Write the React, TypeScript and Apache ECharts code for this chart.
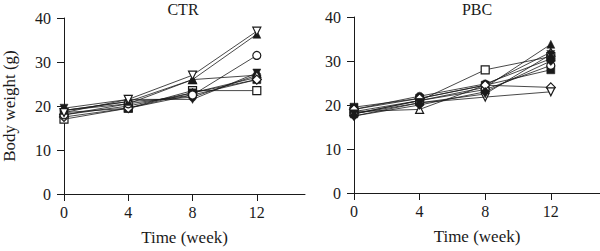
import React, { useEffect, useRef } from "react";
import * as echarts from "echarts";

const weeks = [0, 4, 8, 12];
const xTicks = [0, 4, 8, 12];

// Body weight (g) per mouse, control group
const ctrOpenDown = [18.5, 21.5, 27.0, 37.0];
const ctrFilledTri = [19.0, 21.0, 26.0, 36.3];
const ctrOpenCircle = [18.0, 20.5, 22.5, 31.5];
const ctrOpenSquare = [17.0, 19.5, 23.5, 23.5];
const ctrFilledSquare = [18.5, 19.5, 23.0, 26.0];
const ctrFilledCircle = [19.0, 21.0, 22.0, 27.0];
const ctrFilledDown = [19.5, 21.5, 21.5, 27.5];
const ctrFilledDiamond = [18.0, 20.0, 23.0, 26.5];
const ctrOpenTri = [19.0, 20.5, 26.0, 27.0];
const ctrOpenDiamond = [17.5, 19.5, 22.5, 26.0];

// Body weight (g) per mouse, PBC group
const pbcOpenSquare = [18.5, 21.0, 28.0, 31.0];
const pbcFilledTri = [18.0, 21.0, 24.0, 33.8];
const pbcOpenTri = [18.5, 19.0, 24.5, 32.0];
const pbcFilledCircle = [19.0, 22.0, 24.8, 30.5];
const pbcFilledSquare = [19.5, 21.5, 24.5, 28.0];
const pbcOpenCircle = [18.0, 21.0, 23.5, 29.0];
const pbcOpenDiamond = [19.0, 21.5, 24.5, 24.0];
const pbcOpenDown = [17.5, 20.5, 21.8, 23.0];
const pbcFilledDown = [18.0, 20.5, 22.5, 31.5];
const pbcFilledDiamond = [17.5, 20.0, 23.0, 30.0];

type Mk = { values: number[]; symbol: string; rotate?: number; open?: boolean };

const ctrSeries: Mk[] = [
  { values: ctrOpenSquare, symbol: "rect", open: true },
  { values: ctrFilledSquare, symbol: "rect" },
  { values: ctrFilledCircle, symbol: "circle" },
  { values: ctrFilledDown, symbol: "triangle", rotate: 180 },
  { values: ctrFilledDiamond, symbol: "diamond" },
  { values: ctrOpenTri, symbol: "triangle", open: true },
  { values: ctrOpenDiamond, symbol: "diamond", open: true },
  { values: ctrOpenCircle, symbol: "circle", open: true },
  { values: ctrFilledTri, symbol: "triangle" },
  { values: ctrOpenDown, symbol: "triangle", rotate: 180, open: true },
];

const pbcSeries: Mk[] = [
  { values: pbcOpenSquare, symbol: "rect", open: true },
  { values: pbcFilledTri, symbol: "triangle" },
  { values: pbcOpenTri, symbol: "triangle", open: true },
  { values: pbcFilledCircle, symbol: "circle" },
  { values: pbcFilledSquare, symbol: "rect" },
  { values: pbcOpenCircle, symbol: "circle", open: true },
  { values: pbcOpenDiamond, symbol: "diamond", open: true },
  { values: pbcOpenDown, symbol: "triangle", rotate: 180, open: true },
  { values: pbcFilledDown, symbol: "triangle", rotate: 180 },
  { values: pbcFilledDiamond, symbol: "diamond" },
];

const FONT = "Liberation Serif";
const INK = "#1a1a1a";

function axisPair(idx: number, showName: boolean) {
  const xAxis = {
    type: "value",
    gridIndex: idx,
    min: 0,
    max: 15,
    interval: 4,
    name: "Time (week)",
    nameLocation: "middle",
    nameGap: 35,
    nameTextStyle: { fontFamily: FONT, fontSize: 17, fontWeight: "normal", color: INK },
    axisLine: { lineStyle: { color: INK, width: 1 } },
    axisTick: { inside: false, length: 7, lineStyle: { color: INK }, customValues: xTicks },
    axisLabel: { fontFamily: FONT, fontSize: 16, color: INK, margin: 10, customValues: xTicks },
    splitLine: { show: false },
  };
  const yAxis = {
    type: "value",
    gridIndex: idx,
    min: 0,
    max: 40,
    interval: 10,
    name: showName ? "Body weight (g)" : "",
    nameLocation: "middle",
    nameGap: 46,
    nameTextStyle: { fontFamily: FONT, fontSize: 17, fontWeight: "normal", color: INK },
    axisLine: { show: true, lineStyle: { color: INK, width: 1 } },
    axisTick: { show: true, inside: false, length: 7, lineStyle: { color: INK } },
    axisLabel: { fontFamily: FONT, fontSize: 16, color: INK, margin: 13 },
    splitLine: { show: false },
  };
  return { xAxis, yAxis };
}

function toSeries(list: Mk[], idx: number) {
  return list.map((s) => ({
    type: "line",
    xAxisIndex: idx,
    yAxisIndex: idx,
    data: weeks.map((w, i) => [w, s.values[i]]),
    symbol: s.symbol,
    symbolRotate: s.rotate ?? 0,
    symbolSize: s.symbol === "diamond" ? 9 : 8,
    showAllSymbol: true,
    lineStyle: { color: INK, width: 0.8 },
    itemStyle: {
      color: s.open ? "#ffffff" : INK,
      borderColor: INK,
      borderWidth: s.open ? 1.2 : 0.5,
    },
    z: 3,
  }));
}

export default function App() {
  const ref = useRef<HTMLDivElement>(null);
  useEffect(() => {
    if (!ref.current) return;
    const chart = echarts.init(ref.current, undefined, { renderer: "svg" });
    const a0 = axisPair(0, true);
    const a1 = axisPair(1, false);
    const titleStyle = { fontFamily: FONT, fontSize: 16, fontWeight: "normal", color: INK };
    chart.setOption({
      animation: false,
      backgroundColor: "#ffffff",
      title: [
        { text: "CTR", left: 183, top: 1, padding: 0, textAlign: "center", textStyle: titleStyle },
        { text: "PBC", left: 477, top: 1, padding: 0, textAlign: "center", textStyle: titleStyle },
      ],
      grid: [
        { left: 61, right: 295, top: 18, bottom: 57 },
        { left: 354, right: 0, top: 17, bottom: 58 },
      ],
      xAxis: [a0.xAxis, a1.xAxis],
      yAxis: [a0.yAxis, a1.yAxis],
      series: [...toSeries(ctrSeries, 0), ...toSeries(pbcSeries, 1)],
    });
    return () => chart.dispose();
  }, []);
  return (
    <div
      ref={ref}
      style={{ position: "absolute", left: 0, top: 0, width: 600, height: 251 }}
    />
  );
}
